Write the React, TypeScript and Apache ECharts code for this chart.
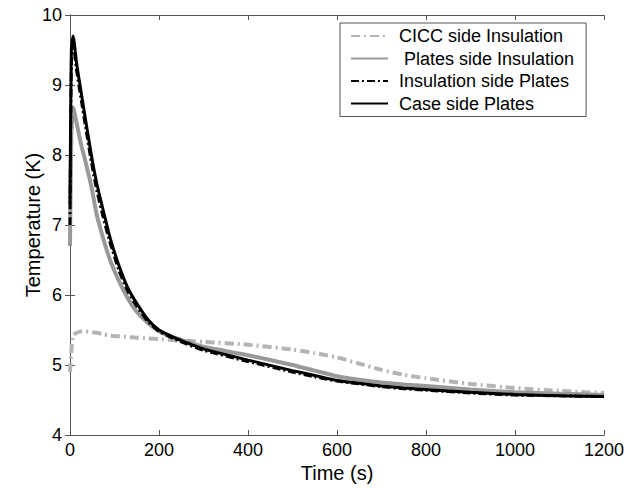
import React, { useEffect, useRef } from "react";
import * as echarts from "echarts";

const times = [0, 3, 7, 15, 25, 35, 48, 60, 75, 90, 110, 130, 150, 175, 200, 225, 250, 300, 400, 500, 550, 600, 650, 700, 750, 800, 900, 1000, 1100, 1200];

const cicc = [4.9, 5.2, 5.42, 5.46, 5.48, 5.48, 5.47, 5.46, 5.44, 5.42, 5.41, 5.4, 5.39, 5.38, 5.37, 5.36, 5.35, 5.33, 5.29, 5.22, 5.17, 5.11, 5.02, 4.93, 4.86, 4.81, 4.73, 4.67, 4.63, 4.6];
const platesIns = [6.7, 8.3, 8.68, 8.45, 8.15, 7.9, 7.55, 7.15, 6.8, 6.5, 6.2, 5.95, 5.76, 5.6, 5.48, 5.41, 5.36, 5.26, 5.14, 5.0, 4.92, 4.84, 4.79, 4.75, 4.72, 4.7, 4.65, 4.61, 4.59, 4.57];
const insPlates = [7.0, 9.3, 9.6, 9.2, 8.8, 8.4, 7.9, 7.5, 7.1, 6.75, 6.35, 6.05, 5.84, 5.62, 5.48, 5.4, 5.33, 5.21, 5.05, 4.9, 4.83, 4.77, 4.73, 4.69, 4.66, 4.64, 4.6, 4.57, 4.56, 4.55];
const casePlates = [7.3, 9.5, 9.7, 9.3, 8.9, 8.5, 8.0, 7.6, 7.2, 6.82, 6.42, 6.1, 5.88, 5.65, 5.5, 5.42, 5.35, 5.23, 5.07, 4.92, 4.85, 4.78, 4.74, 4.7, 4.67, 4.65, 4.61, 4.58, 4.56, 4.55];

const seriesNames = ["CICC side Insulation", " Plates side Insulation", "Insulation side Plates", "Case side Plates"];

const xTicks = { min: 0, max: 1200, interval: 200 };
const yTicks = { min: 4, max: 10, interval: 1 };

const pair = (vals: number[]) => times.map((t, i) => [t, vals[i]]);

export default function App() {
  const ref = useRef<HTMLDivElement>(null);
  useEffect(() => {
    if (!ref.current) return;
    const chart = echarts.init(ref.current, null, { renderer: "svg" });
    const font = "Liberation Sans, Arial, sans-serif";
    const axisLine = { show: true, lineStyle: { color: "#555", width: 1 } };
    const tick = { show: true, inside: true, length: 5, lineStyle: { color: "#555" } };
    chart.setOption({
      animation: false,
      backgroundColor: "#fff",
      grid: { left: 70, right: 28, top: 15, bottom: 52 },
      legend: {
        orient: "vertical",
        left: 340,
        top: 23,
        padding: [4, 12, 4, 10],
        itemGap: 4.5,
        itemWidth: 37,
        itemHeight: 18,
        backgroundColor: "#fff",
        borderColor: "#555",
        borderWidth: 1,
        borderRadius: 0,
        itemStyle: { color: "transparent", borderWidth: 0, opacity: 0 },
        textStyle: { fontFamily: font, fontSize: 18, color: "#000", padding: [0, 0, 0, 6] },
        data: seriesNames,
      },
      xAxis: [
        {
          type: "value",
          ...xTicks,
          position: "bottom",
          name: "Time (s)",
          nameLocation: "middle",
          nameGap: 28,
          nameMoveOverlap: false,
          nameTextStyle: { fontFamily: font, fontSize: 20, color: "#000", lineHeight: 20 },
          axisLine,
          axisTick: tick,
          splitLine: { show: false },
          axisLabel: { fontFamily: font, fontSize: 18, color: "#000", margin: 7, lineHeight: 16, formatter: (v: number) => String(v) },
        },
        {
          type: "value",
          ...xTicks,
          position: "top",
          axisLine,
          axisTick: tick,
          splitLine: { show: false },
          axisLabel: { show: false },
        },
      ],
      yAxis: [
        {
          type: "value",
          ...yTicks,
          position: "left",
          name: "Temperature (K)",
          nameLocation: "middle",
          nameGap: 27,
          nameMoveOverlap: false,
          nameTextStyle: { fontFamily: font, fontSize: 20, color: "#000" },
          axisLine,
          axisTick: tick,
          splitLine: { show: false },
          axisLabel: { fontFamily: font, fontSize: 18, color: "#000", margin: 8 },
        },
        {
          type: "value",
          ...yTicks,
          position: "right",
          axisLine,
          axisTick: tick,
          splitLine: { show: false },
          axisLabel: { show: false },
        },
      ],
      series: [
        {
          name: seriesNames[0],
          type: "line",
          data: pair(cicc),
          symbol: "none",
          smooth: 0.2,
          lineStyle: { color: "#b4b4b4", width: 4, type: [9, 4, 2, 4] },
          itemStyle: { color: "#b4b4b4" },
          z: 2,
        },
        {
          name: seriesNames[1],
          type: "line",
          data: pair(platesIns),
          symbol: "none",
          smooth: 0.2,
          lineStyle: { color: "#999", width: 4, type: "solid" },
          itemStyle: { color: "#999" },
          z: 3,
        },
        {
          name: seriesNames[2],
          type: "line",
          data: pair(insPlates),
          symbol: "none",
          smooth: 0.2,
          lineStyle: { color: "#000", width: 3, type: [8, 3, 2, 3] },
          itemStyle: { color: "#000" },
          z: 4,
        },
        {
          name: seriesNames[3],
          type: "line",
          data: pair(casePlates),
          symbol: "none",
          smooth: 0.2,
          lineStyle: { color: "#000", width: 3, type: "solid" },
          itemStyle: { color: "#000" },
          z: 5,
        },
      ],
    });
    return () => chart.dispose();
  }, []);
  return <div ref={ref} style={{ width: 632, height: 488, position: "absolute", left: 0, top: 0 }} />;
}
